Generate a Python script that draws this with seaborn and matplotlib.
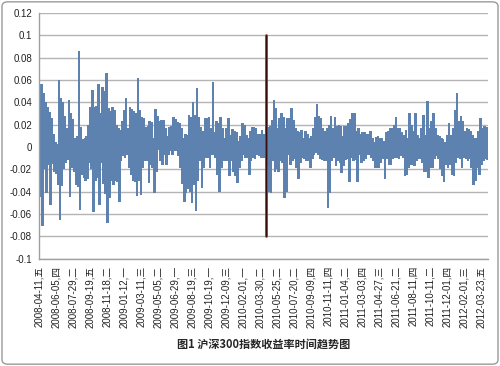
import numpy as np
import pandas as pd
import matplotlib
matplotlib.use("Agg")
import matplotlib.pyplot as plt
from matplotlib.patches import FancyBboxPatch
import seaborn as sns

# CSI 300 returns, in time order (highs and lows of each slice)
returns_part1 = [0.020, -0.045, 0.056, -0.071, 0.048, -0.020, 0.040, -0.041, 0.036, -0.016, 0.031, -0.052,
                 0.026, -0.015, 0.012, -0.022, 0.004, -0.024, 0.003, -0.034, 0.060, -0.065, 0.044, -0.035,
                 0.040, -0.020, 0.028, -0.014, 0.017, -0.012, 0.042, -0.045, 0.030, -0.019, 0.025, -0.022,
                 0.008, -0.034, 0.010, -0.036, 0.086, -0.056, 0.018, -0.025, 0.007, -0.028, 0.008, -0.030,
                 0.010, -0.029, 0.020, -0.014, 0.036, -0.020, 0.051, -0.058, 0.036, -0.030, 0.037, -0.028,
                 0.056, -0.052, 0.030, -0.014, 0.054, -0.033, 0.050, -0.042, 0.066, -0.068, 0.035, -0.046,
                 0.032, -0.030, 0.036, -0.034]
returns_part2 = [0.033, -0.030, 0.020, -0.031, 0.017, -0.049, 0.015, -0.013, 0.023, -0.008, 0.033, -0.010,
                 0.044, -0.007, 0.017, -0.019, 0.036, -0.025, 0.034, -0.030, 0.032, -0.031, 0.030, -0.044,
                 0.062, -0.030, 0.033, -0.043, 0.027, -0.019, 0.026, -0.013, 0.018, -0.013, 0.019, -0.032,
                 0.023, -0.016, 0.022, -0.019, 0.008, -0.041, 0.034, -0.022, 0.028, -0.003, 0.023, -0.013,
                 0.024, -0.016, 0.024, -0.007, 0.017, -0.016, 0.010, -0.007, 0.018, -0.004, 0.019, -0.007,
                 0.027, -0.004, 0.025, -0.004, 0.022, -0.008, 0.021, -0.019, 0.017, -0.033, 0.008, -0.049,
                 0.012, -0.041, 0.011, -0.038]
returns_part3 = [0.029, -0.040, 0.027, -0.050, 0.040, -0.034, 0.029, -0.057, 0.053, -0.030, 0.027, -0.013,
                 0.018, -0.037, 0.014, -0.019, 0.026, -0.010, 0.026, -0.010, 0.027, -0.019, 0.017, -0.007,
                 0.058, -0.007, 0.013, -0.010, 0.023, -0.025, 0.021, -0.040, 0.027, -0.019, 0.017, -0.013,
                 0.008, -0.013, 0.017, -0.013, 0.026, -0.026, 0.011, -0.013, 0.016, -0.022, 0.014, -0.026,
                 0.013, -0.032, 0.005, -0.019, 0.010, -0.013, 0.021, -0.007, 0.020, -0.010, 0.011, -0.010,
                 0.008, -0.025, 0.014, -0.013, 0.018, -0.010, 0.018, -0.011, 0.017, -0.007, 0.012, -0.008,
                 0.012, -0.010, 0.015, -0.010]
returns_part4 = [0.012, -0.010, 0.018, -0.017, 0.018, -0.040, 0.019, -0.041, 0.024, -0.013, 0.042, -0.022,
                 0.035, -0.020, 0.017, -0.022, 0.026, -0.013, 0.030, -0.014, 0.027, -0.046, 0.017, -0.040,
                 0.026, -0.007, 0.026, -0.016, 0.035, -0.013, 0.024, -0.011, 0.017, -0.019, 0.014, -0.029,
                 0.013, -0.014, 0.015, -0.010, 0.008, -0.011, 0.014, -0.013, 0.012, -0.013, 0.008, -0.019,
                 0.010, -0.011, 0.017, -0.007, 0.027, -0.005, 0.038, -0.007, 0.028, -0.011, 0.026, -0.012,
                 0.017, -0.013, 0.014, -0.013, 0.017, -0.055, 0.020, -0.041, 0.028, -0.013, 0.017, -0.010,
                 0.027, -0.017, 0.019, -0.013]
returns_part5 = [0.020, -0.014, 0.019, -0.023, 0.010, -0.017, 0.019, -0.012, 0.019, -0.011, 0.021, -0.031,
                 0.025, -0.010, 0.030, -0.013, 0.030, -0.012, 0.014, -0.031, 0.017, -0.007, 0.012, -0.014,
                 0.013, -0.013, 0.013, -0.011, 0.012, -0.007, 0.012, -0.007, 0.014, -0.010, 0.008, -0.013,
                 0.004, -0.019, 0.009, -0.019, 0.010, -0.019, 0.008, -0.014, 0.008, -0.011, 0.005, -0.029,
                 0.013, -0.011, 0.014, -0.016, 0.017, -0.016, 0.017, -0.011, 0.020, -0.010, 0.027, -0.010,
                 0.017, -0.011, 0.017, -0.008, 0.013, -0.010, 0.011, -0.026, 0.015, -0.025, 0.008, -0.019,
                 0.030, -0.016, 0.020, -0.016]
returns_part6 = [0.014, -0.017, 0.030, -0.013, 0.011, -0.011, 0.008, -0.011, 0.017, -0.014, 0.029, -0.022,
                 0.011, -0.022, 0.041, -0.028, 0.017, -0.019, 0.023, -0.019, 0.030, -0.011, 0.017, -0.008,
                 0.011, -0.011, 0.010, -0.020, 0.008, -0.026, 0.007, -0.031, 0.004, -0.016, 0.011, -0.019,
                 0.021, -0.016, 0.011, -0.025, 0.017, -0.026, 0.033, -0.014, 0.048, -0.010, 0.023, -0.011,
                 0.028, -0.019, 0.023, -0.010, 0.014, -0.011, 0.017, -0.013, 0.016, -0.011, 0.014, -0.019,
                 0.011, -0.034, 0.008, -0.030, 0.008, -0.019, 0.014, -0.025, 0.026, -0.016, 0.017, -0.013,
                 0.019, -0.011, 0.018, -0.012]

# category axis labels (one every 37 trading days)
tick_labels = ["2008-04-11,五", "2008-06-05,四", "2008-07-29,二", "2008-09-19,五", "2008-11-18,二",
               "2009-01-12,一", "2009-03-11,三", "2009-05-05,二", "2009-06-29,一", "2009-08-19,三",
               "2009-10-19,一", "2009-12-09,三", "2010-02-01,一", "2010-03-30,二", "2010-05-25,二",
               "2010-07-20,二", "2010-09-09,四", "2010-11-11,四", "2011-01-04,二", "2011-03-03,四",
               "2011-04-27,三", "2011-06-21,二", "2011-08-11,四", "2011-10-11,二", "2011-12-01,四",
               "2012-02-01,三", "2012-03-23,五"]
tick_step = 37
n_days = 979
event_day = 493   # 2010-04-16, index futures launch
y_ticks = [0.12, 0.1, 0.08, 0.06, 0.04, 0.02, 0, -0.02, -0.04, -0.06, -0.08, -0.1]
title = "图1 沪深300指数收益率时间趋势图"

returns = (returns_part1 + returns_part2 + returns_part3 +
           returns_part4 + returns_part5 + returns_part6)
step = n_days / len(returns)
df = pd.DataFrame({"day": np.arange(len(returns)) * step, "ret": returns})

sns.set_style("white")
plt.rcParams['font.family'] = ['Liberation Sans', 'Noto Sans CJK SC', 'DejaVu Sans']

fig = plt.figure(figsize=(5, 3.66), dpi=100)
ax = fig.add_axes([0.078, 0.293, 0.898, 0.672])

sns.barplot(data=df, x="day", y="ret", native_scale=True, orient="x",
            color="#4f81bd", width=2.6, linewidth=0, errorbar=None, ax=ax)

ax.plot([event_day, event_day], [-0.08, 0.1], color="#a8413a", lw=2.0, zorder=5)
ax.plot([event_day, event_day], [-0.08, 0.1], color="#3a0c08", lw=1.0, zorder=6)

ax.set_ylim(-0.1, 0.12)
ax.set_xlim(-step / 2, n_days - step / 2)
ax.set_yticks(y_ticks)
ax.set_yticklabels([f"{v:g}" for v in y_ticks], fontsize=7, color="#222222")
ax.set_xticks(np.arange(len(tick_labels)) * tick_step)
ax.set_xticklabels(tick_labels, rotation=90, fontsize=7, color="#222222")
ax.yaxis.grid(True, color="#b4b4b4", lw=1.0)
ax.set_axisbelow(True)
ax.tick_params(axis="both", length=3, width=0.8, color="#a0a0a0", pad=2)
ax.set_xlabel("")
ax.set_ylabel("")
for side in ["top", "right"]:
    ax.spines[side].set_visible(False)
for side in ["left", "bottom"]:
    ax.spines[side].set_color("#a0a0a0")
    ax.spines[side].set_linewidth(1.0)

fig.text(0.527, 0.06, title, ha="center", va="center", fontsize=8, fontweight="bold",
         family=["Noto Sans CJK SC"])

fig.patches.append(FancyBboxPatch((0.004, 0.005), 0.992, 0.99,
                                  boxstyle="round,pad=0,rounding_size=0.012",
                                  transform=fig.transFigure, fill=False,
                                  edgecolor="#9a9a9a", lw=1.0))

fig.savefig("out.png", dpi=100)
